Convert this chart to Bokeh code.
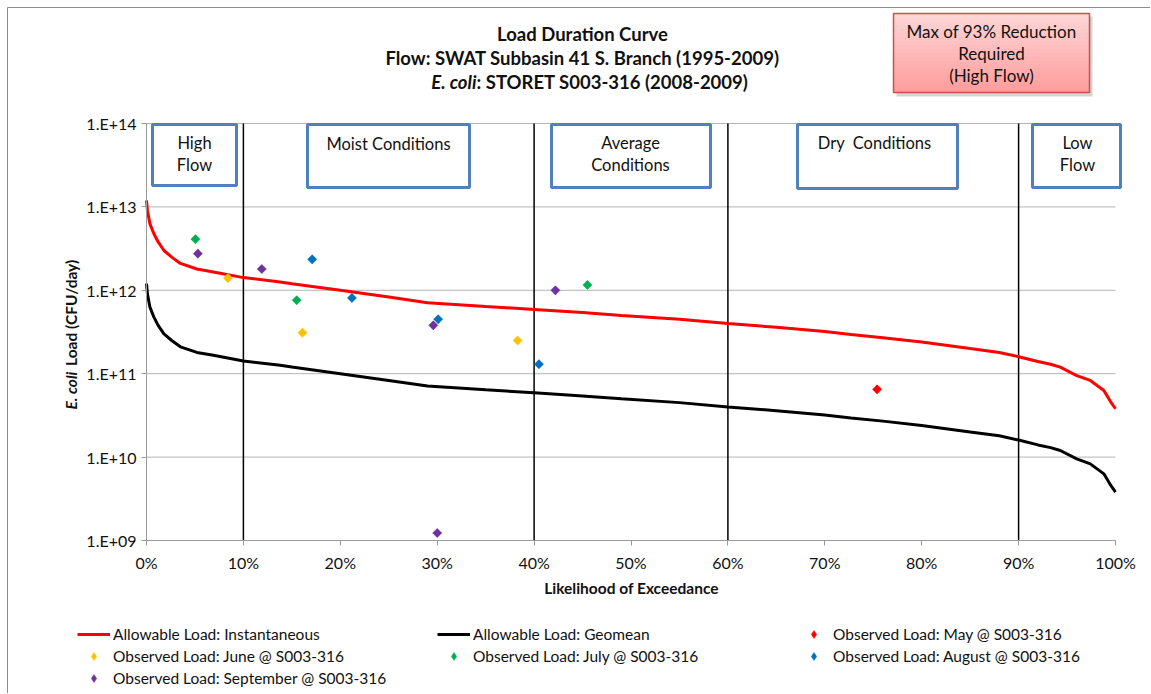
import math
from bokeh.plotting import figure
from bokeh.models import (Range1d, FixedTicker, CustomJSTickFormatter, Label,
                          Legend, LegendItem)
from bokeh.core.properties import value
from bokeh.embed import file_html
from bokeh.resources import INLINE

# ---------------- data ----------------
pct_curve = [0, 0.1, 0.35, 0.75, 1.2, 1.8, 2.6, 3.5, 5.2, 6.9,
             10, 13.8, 15, 20, 25, 29, 35, 40, 45, 49,
             55, 60, 65, 70, 72.7, 76, 80, 85, 88, 90,
             92, 93.3, 94.3, 96, 97.4, 98.8, 99.5, 100]
load_geomean = [1.2e12, 9.0e11, 6.3e11, 4.8e11, 3.8e11, 3.0e11, 2.5e11, 2.1e11, 1.8e11, 1.66e11,
                1.42e11, 1.26e11, 1.2e11, 1.0e11, 8.3e10, 7.1e10, 6.4e10, 5.9e10, 5.4e10, 5.0e10,
                4.5e10, 4.0e10, 3.6e10, 3.2e10, 2.95e10, 2.7e10, 2.4e10, 2.0e10, 1.8e10, 1.6e10,
                1.4e10, 1.3e10, 1.2e10, 9.5e9, 8.3e9, 6.3e9, 4.6e9, 3.8e9]
load_instant = [1.2e13, 9.0e12, 6.3e12, 4.8e12, 3.8e12, 3.0e12, 2.5e12, 2.1e12, 1.8e12, 1.66e12,
                1.42e12, 1.26e12, 1.2e12, 1.0e12, 8.3e11, 7.1e11, 6.4e11, 5.9e11, 5.4e11, 5.0e11,
                4.5e11, 4.0e11, 3.6e11, 3.2e11, 2.95e11, 2.7e11, 2.4e11, 2.0e11, 1.8e11, 1.6e11,
                1.4e11, 1.3e11, 1.2e11, 9.5e10, 8.3e10, 6.3e10, 4.6e10, 3.8e10]

may_pct = [75.4]
may_load = [6.5e10]
june_pct = [8.4, 16.1, 38.3]
june_load = [1.4e12, 3.1e11, 2.5e11]
july_pct = [5.05, 15.5, 45.5]
july_load = [4.1e12, 7.6e11, 1.16e12]
aug_pct = [17.1, 21.2, 30.1, 40.5]
aug_load = [2.35e12, 8.1e11, 4.5e11, 1.3e11]
sep_pct = [5.3, 11.9, 29.6, 42.2, 30.0]
sep_load = [2.75e12, 1.8e12, 3.8e11, 1.0e12, 1.23e9]

condition_bounds = [10, 40, 60, 90]
x_ticks = [0, 10, 20, 30, 40, 50, 60, 70, 80, 90, 100]
x_tick_labels = ["0%", "10%", "20%", "30%", "40%", "50%", "60%", "70%", "80%", "90%", "100%"]
y_ticks = [1e9, 1e10, 1e11, 1e12, 1e13, 1e14]
y_tick_labels = ["1.E+09", "1.E+10", "1.E+11", "1.E+12", "1.E+13", "1.E+14"]

# ---------------- layout helpers (page pixel -> data) ----------------
W, H = 1150, 693
FL, FR, FT, FB = 146, 1115, 123, 540   # pixel box of the gridded area
XMIN, XMAX, YMIN_EXP, YMAX_EXP = 0, 100, 9, 14


def dx(px):
    return XMIN + (px - FL) / (FR - FL) * (XMAX - XMIN)


def dy(py):
    return 10 ** (YMAX_EXP - (py - FT) / (FB - FT) * (YMAX_EXP - YMIN_EXP))


FONT = "Lato"
TXT = "#111111"

p = figure(width=W, height=H, x_range=Range1d(dx(0), dx(W)), y_range=Range1d(dy(H), dy(0)),
           y_axis_type="log", output_backend="svg", toolbar_location=None,
           min_border=0, min_border_left=0, min_border_right=0, min_border_top=0,
           min_border_bottom=0)
p.outline_line_color = None
p.background_fill_color = "white"
p.border_fill_color = "white"
p.xgrid.visible = False
p.ygrid.visible = False

# axes, pinned at the edges of the gridded area
p.xaxis.fixed_location = 10 ** YMIN_EXP
p.xaxis.bounds = (XMIN, XMAX)
p.yaxis.fixed_location = XMIN
p.yaxis.bounds = (10 ** YMIN_EXP, 10 ** YMAX_EXP)
p.xaxis.ticker = FixedTicker(ticks=x_ticks)
p.xaxis.formatter = CustomJSTickFormatter(args=dict(labels=x_tick_labels), code="return labels[index];")
p.yaxis.ticker = FixedTicker(ticks=y_ticks)
p.yaxis.formatter = CustomJSTickFormatter(args=dict(labels=y_tick_labels), code="return labels[index];")
for ax in (p.xaxis[0], p.yaxis[0]):
    ax.axis_line_color = "#9a9a9a"
    ax.major_tick_line_color = "#9a9a9a"
    ax.major_tick_in = 0
    ax.major_tick_out = 5
    ax.minor_tick_line_color = None
    ax.major_label_text_font = FONT
    ax.major_label_text_font_size = "16px"
    ax.major_label_text_color = TXT
p.xaxis.major_label_standoff = 7
p.yaxis.major_label_standoff = 5

# chart border
p.quad(left=[dx(7)], right=[dx(W + 20)], top=[dy(7)], bottom=[dy(H + 20)],
       fill_color=None, line_color="#8c8c8c", line_width=1)

# horizontal gridlines over the gridded area
p.segment(x0=[XMIN] * len(y_ticks), x1=[XMAX] * len(y_ticks), y0=y_ticks, y1=y_ticks,
          line_color="#b4b4b4", line_width=1)

# flow condition boundaries
p.segment(x0=condition_bounds, y0=[10 ** YMIN_EXP] * len(condition_bounds), x1=condition_bounds,
          y1=[10 ** YMAX_EXP] * len(condition_bounds), line_color="black", line_width=1.5)

# flow condition boxes
boxes = [  # left, right, top, bottom (page pixels)
    (152, 236, 124, 185),
    (307, 469, 124, 187),
    (551, 710, 124, 187),
    (797, 957, 124, 188),
    (1032, 1120, 124, 187),
]
p.quad(left=[dx(b[0]) for b in boxes], right=[dx(b[1]) for b in boxes],
       top=[dy(b[2]) for b in boxes], bottom=[dy(b[3]) for b in boxes],
       fill_color="white", line_color="#4F81BD", line_width=3)
box_texts = [
    ("High", 194, 142), ("Flow", 194, 164),
    ("Moist Conditions", 388, 143),
    ("Average", 630, 142), ("Conditions", 630, 164),
    ("Dry\u00a0 Conditions", 874, 142),
    ("Low", 1077, 142), ("Flow", 1077, 164),
]
p.text(x=[dx(t[1]) for t in box_texts], y=[dy(t[2]) for t in box_texts],
       text=[t[0] for t in box_texts], text_align="center", text_baseline="middle",
       text_font=value(FONT), text_font_size="16.5px", text_color=TXT)

# curves
r_inst = p.line(pct_curve, load_instant, line_color="#FF0000", line_width=3)
r_geo = p.line(pct_curve, load_geomean, line_color="black", line_width=3)

# observations
month_colors = {"may": "#FF0000", "june": "#FFC000", "july": "#00B050",
                "august": "#0070C0", "september": "#7030A0"}
obs = [("may", may_pct, may_load), ("june", june_pct, june_load), ("july", july_pct, july_load),
       ("august", aug_pct, aug_load), ("september", sep_pct, sep_load)]
legend_glyphs = {}
for name, xs, ys in obs:
    c = month_colors[name]
    # small diamond used as the legend sample (sits hidden under the main marker)
    legend_glyphs[name] = p.scatter(xs, ys, marker="diamond", size=8, fill_color=c,
                                    line_color=c, line_width=0.5)
    p.scatter(xs, ys, marker="square", angle=math.pi / 4, size=6.5, fill_color=c,
              line_color=c, line_width=0.5)

# title
TS = "18.5px"
p.add_layout(Label(x=dx(582), y=dy(33), text="Load Duration Curve", text_align="center",
                   text_baseline="middle", text_font=FONT, text_font_style="bold",
                   text_font_size=TS, text_color=TXT))
p.add_layout(Label(x=dx(582), y=dy(57), text="Flow: SWAT Subbasin 41 S. Branch (1995-2009)",
                   text_align="center", text_baseline="middle", text_font=FONT,
                   text_font_style="bold", text_font_size=TS, text_color=TXT))
p.add_layout(Label(x=dx(476), y=dy(81), text="E. coli", text_align="right",
                   text_baseline="middle", text_font=FONT, text_font_style="bold italic",
                   text_font_size=TS, text_color=TXT))
p.add_layout(Label(x=dx(476), y=dy(81), text=": STORET S003-316 (2008-2009)", text_align="left",
                   text_baseline="middle", text_font=FONT, text_font_style="bold",
                   text_font_size=TS, text_color=TXT))

# axis titles
p.add_layout(Label(x=dx(631), y=dy(587), text="Likelihood of Exceedance", text_align="center",
                   text_baseline="middle", text_font=FONT, text_font_style="bold",
                   text_font_size="15.5px", text_color=TXT))
p.add_layout(Label(x=dx(70), y=dy(409), text="E. coli", angle=math.pi / 2, text_align="left",
                   text_baseline="middle", text_font=FONT, text_font_style="bold italic",
                   text_font_size="15.5px", text_color=TXT))
p.add_layout(Label(x=dx(70), y=dy(365.5), text="Load (CFU/day)", angle=math.pi / 2,
                   text_align="left", text_baseline="middle", text_font=FONT,
                   text_font_style="bold", text_font_size="15.5px", text_color=TXT))

# reduction callout (shadow, vertical gradient strips, border)
p.quad(left=[dx(896)], right=[dx(1092)], top=[dy(16)], bottom=[dy(96)],
       fill_color="#a0a0a0", fill_alpha=0.45, line_color=None)
n_strips = 20
top_px, bot_px = 13, 92
c0, c1 = (255, 214, 214), (255, 156, 156)
for i in range(n_strips):
    f = (i + 0.5) / n_strips
    col = "#%02x%02x%02x" % tuple(int(round(a + (b - a) * f)) for a, b in zip(c0, c1))
    t = top_px + (bot_px - top_px) * i / n_strips
    b = top_px + (bot_px - top_px) * (i + 1) / n_strips
    p.quad(left=[dx(893)], right=[dx(1089)], top=[dy(t)], bottom=[dy(b + 0.5)],
           fill_color=col, line_color=None)
p.quad(left=[dx(893)], right=[dx(1089)], top=[dy(top_px)], bottom=[dy(bot_px)],
       fill_color=None, line_color="#C9504E", line_width=1.5)
for txt, yy in (("Max of 93% Reduction", 31), ("Required", 53), ("(High Flow)", 75)):
    p.add_layout(Label(x=dx(991), y=dy(yy), text=txt, text_align="center",
                       text_baseline="middle", text_font=FONT, text_font_size="17px",
                       text_color=TXT))

# legend
items = [
    LegendItem(label="Allowable Load: Instantaneous", renderers=[r_inst]),
    LegendItem(label="Allowable Load: Geomean", renderers=[r_geo]),
    LegendItem(label="Observed Load: May @ S003-316", renderers=[legend_glyphs["may"]]),
    LegendItem(label="Observed Load: June @ S003-316", renderers=[legend_glyphs["june"]]),
    LegendItem(label="Observed Load: July @ S003-316", renderers=[legend_glyphs["july"]]),
    LegendItem(label="Observed Load: August @ S003-316", renderers=[legend_glyphs["august"]]),
    LegendItem(label="Observed Load: September @ S003-316", renderers=[legend_glyphs["september"]]),
]
legend = Legend(items=items, orientation="horizontal", ncols=3, location=(77, H - 624 - 64),
                glyph_width=33, glyph_height=20, label_height=20, label_width=322,
                label_standoff=3, spacing=2, padding=0, margin=0,
                border_line_color=None, background_fill_alpha=0,
                label_text_font=FONT, label_text_font_size="15.5px", label_text_color=TXT)
p.add_layout(legend, "center")

open("out.html", "w").write(file_html(p, INLINE))
